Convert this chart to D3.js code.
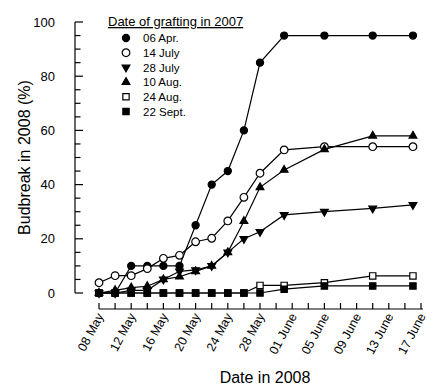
<!DOCTYPE html>
<html>
<head>
<meta charset="utf-8">
<script src="https://cdn.jsdelivr.net/npm/d3@7"></script>
<style>
  body { margin: 0; background: #fff; }
  svg { font-family: "Liberation Sans", Arial, sans-serif; }
</style>
</head>
<body>
<div class="chart"></div>
<script>
// sampling dates (2008)
const dates = ['2008-05-08','2008-05-10','2008-05-12','2008-05-14','2008-05-16','2008-05-18',
  '2008-05-20','2008-05-22','2008-05-24','2008-05-26','2008-05-28','2008-05-31',
  '2008-06-05','2008-06-11','2008-06-16'];

// budbreak % per grafting date
const apr06  = [0, 0, 10, 10, 10, 10, 25, 40, 45, 60, 85, 95, 95, 95, 95];
const jul14  = [3.8, 6.4, 6.4, 9, 12.8, 13.9, 18.9, 20.2, 26.6, 35.3, 44.2, 52.8, 54, 54, 54];
const jul28  = [0, 0, 1, 1, 5, 8, 8.5, 10, 15, 20, 22.6, 28.8, 30, 31.2, 32.5];
const aug10  = [0, 1, 2, 2.5, 5, 6, 8, 10, 15, 26.5, 39, 45.4, 53, 58, 58];
const aug24  = [0, 0, 0, 0, 0, 0, 0, 0, 0, 0, 2.8, 2.8, 3.8, 6.3, 6.3];
const sep22  = [0, 0, 0, 0, 0, 0, 0, 0, 0, 0, 0, 1.4, 2.6, 2.6, 2.6];

const seriesNames = ['06 Apr.', '14 July', '28 July', '10 Aug.', '24 Aug.', '22 Sept.'];
const tickDates = ['2008-05-08','2008-05-12','2008-05-16','2008-05-20','2008-05-24','2008-05-28',
  '2008-06-01','2008-06-05','2008-06-09','2008-06-13','2008-06-17'];
const yTicks = [0, 20, 40, 60, 80, 100];

const parse = d3.utcParse('%Y-%m-%d');
const fmt = d3.utcFormat('%d %B');

const width = 438, height = 387;

const svg = d3.select('.chart').append('svg')
  .attr('width', width)
  .attr('height', height);

const x = d3.scaleUtc()
  .domain([parse('2008-05-08'), parse('2008-06-17')])
  .range([99, 421]);
const y = d3.scaleLinear().domain([0, 100]).range([293, 22]);

// y axis (ticks point inward)
const yAxisG = svg.append('g').attr('transform', 'translate(75,0)');
yAxisG.append('line')
  .attr('y1', y(0)).attr('y2', y(100))
  .attr('stroke', '#000').attr('stroke-width', 1.2);
yAxisG.selectAll('.minor')
  .data(d3.range(0, 101, 5))
  .enter().append('line')
  .attr('x1', 0).attr('x2', d => d % 20 === 0 ? 8 : 5.5)
  .attr('y1', d => y(d)).attr('y2', d => y(d))
  .attr('stroke', '#000').attr('stroke-width', 1.2);
yAxisG.selectAll('text')
  .data(yTicks)
  .enter().append('text')
  .attr('x', -20).attr('y', d => y(d))
  .attr('dy', '0.36em')
  .attr('text-anchor', 'end')
  .attr('font-size', 13)
  .text(d => d);

// x axis (offset below plot)
const xAxisG = svg.append('g').attr('transform', 'translate(0,309)');
xAxisG.append('line')
  .attr('x1', x(parse('2008-05-08'))).attr('x2', x(parse('2008-06-17')) + 2)
  .attr('stroke', '#000').attr('stroke-width', 1.2);
xAxisG.selectAll('.tick')
  .data(d3.utcDay.range(parse('2008-05-08'), d3.utcDay.offset(parse('2008-06-17'), 1), 2))
  .enter().append('line')
  .attr('x1', d => x(d)).attr('x2', d => x(d))
  .attr('y1', 0).attr('y2', -6)
  .attr('stroke', '#000').attr('stroke-width', 1.2);
xAxisG.selectAll('text')
  .data(tickDates.map(parse))
  .enter().append('text')
  .attr('transform', d => `translate(${x(d) + 5},7) rotate(-62)`)
  .attr('text-anchor', 'end')
  .attr('font-size', 12.5)
  .text(d => fmt(d));

// axis titles
svg.append('text')
  .attr('transform', `translate(30,${y(50)}) rotate(-90)`)
  .attr('text-anchor', 'middle')
  .attr('font-size', 16)
  .text('Budbreak in 2008 (%)');
svg.append('text')
  .attr('x', 265).attr('y', 383)
  .attr('text-anchor', 'middle')
  .attr('font-size', 16)
  .text('Date in 2008');

// series
const allSeries = [apr06, jul14, jul28, aug10, aug24, sep22];
const symbols = [
  { type: d3.symbolCircle, size: 40, fill: '#000', rot: 0 },
  { type: d3.symbolCircle, size: 46, fill: '#fff', rot: 0 },
  { type: d3.symbolTriangle, size: 26, fill: '#000', rot: 180 },
  { type: d3.symbolTriangle, size: 26, fill: '#000', rot: 0 },
  { type: d3.symbolSquare, size: 40, fill: '#fff', rot: 0 },
  { type: d3.symbolSquare, size: 40, fill: '#000', rot: 0 }
];

const line = d3.line()
  .x(d => x(d.date))
  .y(d => y(d.value));

allSeries.forEach((vals, i) => {
  const pts = vals.map((v, j) => ({ date: parse(dates[j]), value: v }));
  const g = svg.append('g');
  g.append('path')
    .datum(pts)
    .attr('fill', 'none')
    .attr('stroke', '#000')
    .attr('stroke-width', 1.2)
    .attr('d', line);
  const s = symbols[i];
  g.selectAll('path.mark')
    .data(pts)
    .enter().append('path')
    .attr('class', 'mark')
    .attr('d', d3.symbol().type(s.type).size(s.size))
    .attr('transform', d => `translate(${x(d.date)},${y(d.value)}) rotate(${s.rot})`)
    .attr('fill', s.fill)
    .attr('stroke', '#000')
    .attr('stroke-width', 1.2);
});

// legend
const legend = svg.append('g');
legend.append('text')
  .attr('x', 108).attr('y', 26)
  .attr('font-size', 13)
  .attr('text-decoration', 'underline')
  .text('Date of grafting in 2007');
seriesNames.forEach((name, i) => {
  const ly = 38 + i * 14.7;
  const s = symbols[i];
  legend.append('path')
    .attr('d', d3.symbol().type(s.type).size(s.size))
    .attr('transform', `translate(126,${ly}) rotate(${s.rot})`)
    .attr('fill', s.fill)
    .attr('stroke', '#000')
    .attr('stroke-width', 1.2);
  legend.append('text')
    .attr('x', 143).attr('y', ly)
    .attr('dy', '0.36em')
    .attr('font-size', 11.5)
    .text(name);
});
</script>
</body>
</html>
